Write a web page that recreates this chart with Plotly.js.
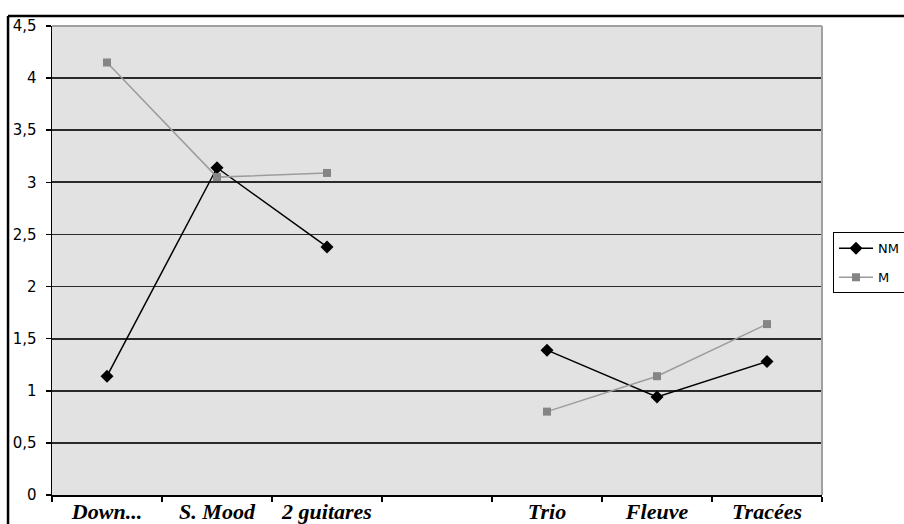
<!DOCTYPE html>
<html>
<head>
<meta charset="utf-8">
<script src="https://cdn.plot.ly/plotly-3.0.1.min.js"></script>
<style>html,body{margin:0;padding:0;background:#fff;}#chart{width:904px;height:524px;}</style>
</head>
<body>
<div id="chart"></div>
<script>
var categories = ['Down...', 'S. Mood', '2 guitares', ' ', 'Trio', 'Fleuve', 'Tracées'];
var seriesNames = ['NM', 'M'];
var nmValues = [1.14, 3.14, 2.38, null, 1.39, 0.94, 1.28];
var mValues = [4.15, 3.05, 3.09, null, 0.80, 1.14, 1.64];

var traces = [
  {
    x: categories, y: nmValues, name: seriesNames[0], type: 'scatter', mode: 'lines+markers',
    connectgaps: false, legendgroup: 'a',
    line: {color: '#000000', width: 1.5},
    marker: {symbol: 'diamond', size: 10, color: '#000000'}
  },
  {
    x: categories, y: mValues, name: seriesNames[1], type: 'scatter', mode: 'lines+markers',
    connectgaps: false, legendgroup: 'b',
    line: {color: '#9c9c9c', width: 1.5},
    marker: {symbol: 'square', size: 8, color: '#858585'}
  }
];

var layout = {
  width: 904, height: 524,
  margin: {l: 52, r: 82, t: 26, b: 29, autoexpand: false},
  paper_bgcolor: '#ffffff',
  plot_bgcolor: '#e2e2e2',
  separators: ', ',
  showlegend: true,
  legend: {
    x: 1.0143, xanchor: 'left', y: 0.56, yanchor: 'top',
    bgcolor: '#ffffff', bordercolor: '#000000', borderwidth: 1,
    font: {family: 'DejaVu Sans, sans-serif', size: 13, color: '#000'},
    itemwidth: 34,
    traceorder: 'grouped', tracegroupgap: 9
  },
  xaxis: {
    type: 'category', range: [-0.5, 6.5], fixedrange: true,
    showline: true, linecolor: '#000', linewidth: 1.5,
    showgrid: false, zeroline: false,
    ticks: 'outside', tickson: 'boundaries', ticklen: 5, tickcolor: '#000', tickwidth: 1.5,
    ticklabelstandoff: -4,
    tickfont: {family: 'Liberation Serif, Times New Roman, serif', size: 22, color: '#000', weight: 'bold', style: 'italic'}
  },
  yaxis: {
    range: [0, 4.5], dtick: 0.5, tick0: 0, fixedrange: true,
    showline: true, linecolor: '#000', linewidth: 1.5,
    showgrid: true, gridcolor: '#2a2a2a', gridwidth: 1.8, zeroline: false,
    ticks: 'outside', ticklen: 5, tickcolor: '#000', tickwidth: 1.5,
    ticklabelstandoff: 6,
    tickfont: {family: 'DejaVu Sans, sans-serif', size: 15, color: '#000'}
  },
  shapes: [
    {type: 'line', xref: 'paper', yref: 'paper', x0: 0, x1: 1, y0: 1, y1: 1, line: {color: '#a0a0a0', width: 2}},
    {type: 'line', xref: 'paper', yref: 'paper', x0: 1, x1: 1, y0: 0, y1: 1, line: {color: '#a0a0a0', width: 2}},
    {type: 'line', xref: 'paper', yref: 'paper', x0: -0.0571, x1: -0.0571, y0: -0.2, y1: 1.0214, line: {color: '#000', width: 2.5}},
    {type: 'line', xref: 'paper', yref: 'paper', x0: -0.0571, x1: 1.2, y0: 1.0214, y1: 1.0214, line: {color: '#000', width: 2.5}}
  ]
};

Plotly.newPlot('chart', traces, layout, {displayModeBar: false, staticPlot: true});
</script>
</body>
</html>
